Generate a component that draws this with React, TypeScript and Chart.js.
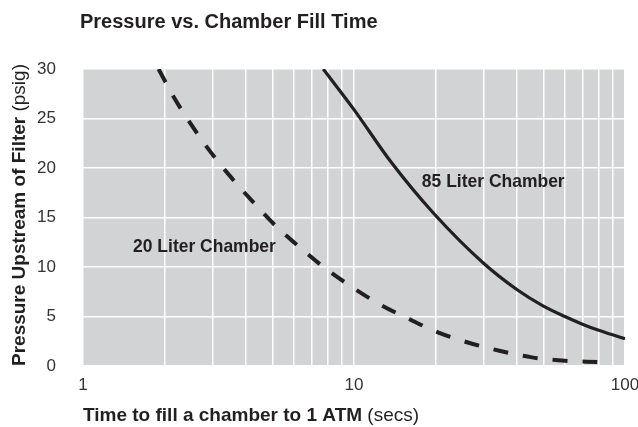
import React, { useEffect, useRef } from "react";
import { Chart, registerables } from "chart.js";

Chart.register(...registerables);

// ---- data ----
const TIME_20L = [1.9, 2.17, 2.52, 2.96, 3.52, 4.23, 5.12, 6.3, 7.8, 9.8, 12.4, 15.8, 20.4, 26.5, 34.7, 45.4, 59.9, 79];
const PSI_20L = [30, 27.1, 24.3, 21.6, 19.05, 16.6, 14.2, 12.0, 9.9, 8.0, 6.26, 4.8, 3.4, 2.35, 1.51, 0.87, 0.53, 0.4];

const TIME_85L = [7.7, 10, 13.7, 19.7, 30, 40, 50, 60, 70, 80, 90, 100];
const PSI_85L = [30, 25.9, 20.6, 15.4, 10.4, 7.7, 6.05, 5.0, 4.2, 3.6, 3.15, 2.75];

const X_GRID = [1, 2, 3, 4, 5, 6, 7, 8, 9, 10, 20, 30, 40, 50, 60, 70, 80, 90, 100];
const X_LABELED = [1, 10, 100];
const Y_MIN = 0;
const Y_MAX = 30;
const Y_STEP = 5;

const TITLE = "Pressure vs. Chamber Fill Time";
const X_TITLE_BOLD = "Time to fill a chamber to 1 ATM";
const X_TITLE_UNIT = " (secs)";
const Y_TITLE_BOLD = "Pressure Upstream of Filter";
const Y_TITLE_UNIT = " (psig)";

const LABEL_TEXT = ["20 Liter Chamber", "85 Liter Chamber"];
const LABEL_X = [1.53, 17.8];
const LABEL_Y = [11.48, 18.05];

const INK = "#231f20";
const PLOT_BG = "#d1d3d4";
const SANS = '"Liberation Sans", Arial, Helvetica, sans-serif';
const LABEL_SQUEEZE = 0.92;

const decorPlugin = {
  id: "decor",
  beforeDraw(chart: any) {
    const { ctx, chartArea } = chart;
    const { left, top, right, bottom } = chartArea;
    ctx.save();
    ctx.fillStyle = PLOT_BG;
    ctx.fillRect(left, top, right - left, bottom - top);
    ctx.restore();
  },
  afterDraw(chart: any) {
    const { ctx, chartArea, scales } = chart;
    ctx.save();
    ctx.fillStyle = INK;
    ctx.textBaseline = "alphabetic";
    ctx.textAlign = "left";

    // title
    ctx.font = `bold 20px ${SANS}`;
    ctx.fillText(TITLE, 80, 28);

    // x title
    ctx.font = `bold 19px ${SANS}`;
    const xb = ctx.measureText(X_TITLE_BOLD).width;
    ctx.fillText(X_TITLE_BOLD, chartArea.left, 421);
    ctx.font = `19px ${SANS}`;
    ctx.fillText(X_TITLE_UNIT, chartArea.left + xb, 421);

    // y title
    ctx.save();
    ctx.translate(25, chartArea.bottom);
    ctx.rotate(-Math.PI / 2);
    ctx.font = `bold 19px ${SANS}`;
    const yb = ctx.measureText(Y_TITLE_BOLD).width;
    ctx.fillText(Y_TITLE_BOLD, 0, 0);
    ctx.font = `19px ${SANS}`;
    ctx.fillText(Y_TITLE_UNIT, yb, 0);
    ctx.restore();

    // curve labels (condensed look)
    ctx.font = `bold 19px ${SANS}`;
    LABEL_TEXT.forEach((t, i) => {
      const px = scales.x.getPixelForValue(LABEL_X[i]);
      const py = scales.y.getPixelForValue(LABEL_Y[i]);
      ctx.save();
      ctx.translate(px, py);
      ctx.scale(LABEL_SQUEEZE, 1);
      ctx.fillText(t, 0, 0);
      ctx.restore();
    });
    ctx.restore();
  },
};

export default function App() {
  const ref = useRef<HTMLCanvasElement | null>(null);

  useEffect(() => {
    if (!ref.current) return;
    const gridOpts = { color: "#ffffff", lineWidth: 1.5, drawTicks: false };
    const tickFont = { family: SANS, size: 17 };
    const chart = new Chart(ref.current, {
      type: "line",
      data: {
        datasets: [
          {
            label: LABEL_TEXT[0],
            data: TIME_20L.map((t, i) => ({ x: t, y: PSI_20L[i] })),
            borderColor: INK,
            borderWidth: 4,
            borderDash: [15, 15],
            borderCapStyle: "butt",
            pointRadius: 0,
            cubicInterpolationMode: "monotone",
            fill: false,
          },
          {
            label: LABEL_TEXT[1],
            data: TIME_85L.map((t, i) => ({ x: t, y: PSI_85L[i] })),
            borderColor: INK,
            borderWidth: 3.2,
            pointRadius: 0,
            cubicInterpolationMode: "monotone",
            fill: false,
          },
        ],
      },
      options: {
        responsive: false,
        animation: false,
        layout: { padding: { top: 69, right: 13, left: 0, bottom: 0 } },
        plugins: { legend: { display: false }, tooltip: { enabled: false } },
        scales: {
          x: {
            type: "logarithmic",
            min: X_GRID[0],
            max: X_GRID[X_GRID.length - 1],
            afterBuildTicks: (s: any) => {
              s.ticks = X_GRID.map((v) => ({ value: v }));
            },
            afterFit: (s: any) => {
              s.height = 61;
              s.paddingLeft = 0;
              s.paddingRight = 0;
            },
            ticks: {
              autoSkip: false,
              maxRotation: 0,
              padding: 9,
              color: "#333333",
              font: tickFont,
              callback: (v: any) => (X_LABELED.includes(Number(v)) ? String(v) : ""),
            },
            grid: gridOpts,
            border: { display: false },
          },
          y: {
            min: Y_MIN,
            max: Y_MAX,
            afterFit: (s: any) => {
              s.width = 83;
            },
            ticks: {
              stepSize: Y_STEP,
              padding: 27,
              color: "#333333",
              font: tickFont,
            },
            grid: gridOpts,
            border: { display: false },
          },
        },
      },
      plugins: [decorPlugin],
    } as any);
    return () => chart.destroy();
  }, []);

  return (
    <div style={{ position: "fixed", left: 0, top: 0, width: 638, height: 427, background: "#ffffff" }}>
      <canvas ref={ref} width={638} height={427} style={{ display: "block" }} />
    </div>
  );
}
